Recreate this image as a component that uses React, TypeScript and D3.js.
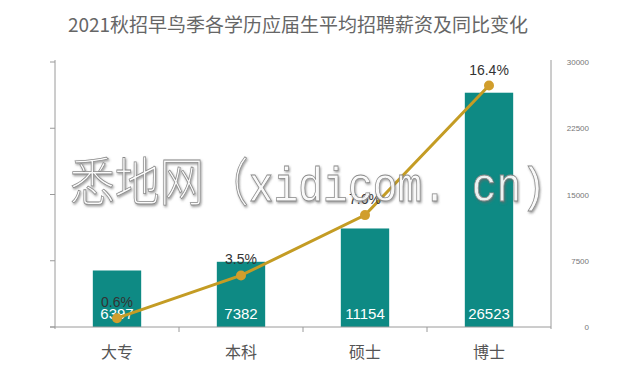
import React from "react";
import * as d3 from "d3";

const categories = ["大专", "本科", "硕士", "博士"];
const salaries = [6397, 7382, 11154, 26523];
const growth = [0.6, 3.5, 7.6, 16.4];
const rightTicks = [0, 7500, 15000, 22500, 30000];
const leftTicks = [0, 4.5, 9, 13.5, 18];
const title = "2021秋招早鸟季各学历应届生平均招聘薪资及同比变化";

const W = 629;
const H = 379;
const left = 55;
const right = 551;
const top = 62;
const bottom = 327;

export default function App() {
  const x = d3.scaleBand<string>().domain(categories).range([left, right]).padding(0);
  const yR = d3.scaleLinear().domain([0, 30000]).range([bottom, top]);
  const yL = d3.scaleLinear().domain([0, 18]).range([bottom, top]);
  const barW = x.bandwidth() * 0.39;
  const cx = (c: string) => (x(c) as number) + x.bandwidth() / 2;
  const lineGen = d3
    .line<number>()
    .x((_, i) => cx(categories[i]))
    .y((d) => yL(d));
  const axisColor = "#9a9a9a";
  const boundaries = categories.map((c) => x(c) as number).concat([right]);

  return (
    <svg
      width={W}
      height={H}
      style={{ position: "fixed", left: 0, top: 0, background: "#fff" }}
      fontFamily="'Helvetica Neue', Arial, 'Liberation Sans', 'Noto Sans CJK SC', sans-serif"
    >
      <defs>
        <filter id="wmShadow" x="-5%" y="-20%" width="110%" height="140%">
          <feDropShadow dx="1" dy="1.5" stdDeviation="1.2" floodColor="#666" floodOpacity="0.7" />
        </filter>
      </defs>
      <rect width={W} height={H} fill="#fff" />
      <text
        x={298}
        y={32}
        textAnchor="middle"
        fontSize={19}
        fill="#666"
        fontFamily="'Noto Sans CJK SC', sans-serif"
      >
        {title}
      </text>

      {/* bars */}
      {categories.map((c, i) => (
        <rect
          key={c}
          x={cx(c) - barW / 2}
          y={yR(salaries[i])}
          width={barW}
          height={bottom - yR(salaries[i])}
          fill="#0e8a84"
        />
      ))}
      {categories.map((c, i) => (
        <text
          key={c + "v"}
          x={cx(c)}
          y={bottom - 8}
          textAnchor="middle"
          fontSize={15}
          fill="#fff"
        >
          {salaries[i]}
        </text>
      ))}

      {/* axes */}
      <line x1={left} x2={left} y1={top - 2} y2={bottom + 2} stroke={axisColor} />
      {leftTicks.map((t) => (
        <line key={"lt" + t} x1={left - 5} x2={left} y1={yL(t)} y2={yL(t)} stroke={axisColor} />
      ))}
      <line x1={right} x2={right} y1={top - 2} y2={bottom + 2} stroke={axisColor} />
      <line x1={left - 5} x2={right} y1={bottom} y2={bottom} stroke={axisColor} />
      {boundaries.slice(1, 4).map((b, i) => (
        <line key={"bt" + i} x1={b} x2={b} y1={bottom} y2={bottom + 5} stroke={axisColor} />
      ))}
      {rightTicks.map((t) => (
        <text
          key={"rt" + t}
          x={589}
          y={yR(t) + 3}
          textAnchor="end"
          fontSize={8}
          fill="#777"
        >
          {t}
        </text>
      ))}
      {categories.map((c) => (
        <text
          key={c + "c"}
          x={cx(c)}
          y={358}
          textAnchor="middle"
          fontSize={16}
          fill="#555"
          fontFamily="'Noto Sans CJK SC', sans-serif"
        >
          {c}
        </text>
      ))}

      {/* line */}
      <path d={lineGen(growth) || ""} fill="none" stroke="#c49c24" strokeWidth={3} />
      {growth.map((g, i) => (
        <circle key={"p" + i} cx={cx(categories[i])} cy={yL(g)} r={5} fill="#d19e2c" />
      ))}
      {growth.map((g, i) => (
        <text
          key={"g" + i}
          x={cx(categories[i])}
          y={yL(g) - 11}
          textAnchor="middle"
          fontSize={14}
          fill="#333"
        >
          {g.toFixed(1) + "%"}
        </text>
      ))}

      {/* watermark */}
      <text
        x={70}
        y={201}
        fill="#ffffff"
        fillOpacity={0.88}
        stroke="#8a8a8a"
        strokeWidth={0.8}
        filter="url(#wmShadow)"
        textLength={476}
        lengthAdjust="spacingAndGlyphs"
      >
        <tspan fontSize={52} fontFamily="'Noto Sans CJK SC', sans-serif" fontWeight={300}>
          悉地网（
        </tspan>
        <tspan fontSize={48} fontFamily="'Liberation Mono', monospace">
          xidicom. cn)
        </tspan>
      </text>
    </svg>
  );
}
